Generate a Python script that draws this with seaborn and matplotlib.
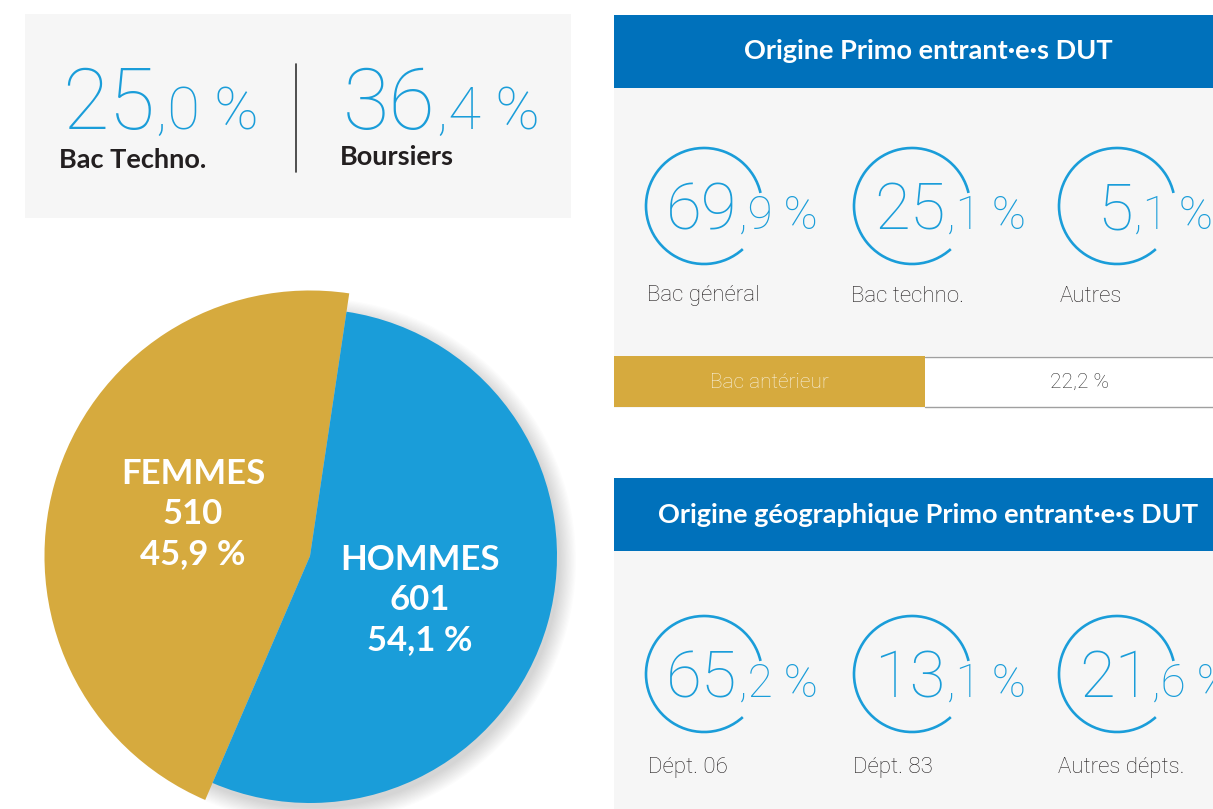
import matplotlib
matplotlib.use('Agg')
import matplotlib.pyplot as plt
from matplotlib.patches import Rectangle, Arc, Circle
import seaborn as sns

# Données
sexe_labels = ['FEMMES', 'HOMMES']
sexe_effectifs = [510, 601]
sexe_pct = [45.9, 54.1]

cles_pct = [25.0, 36.4]
cles_labels = ['Bac Techno.', 'Boursiers']

bac_labels = ['Bac général', 'Bac techno.', 'Autres']
bac_pct = [69.9, 25.1, 5.1]
bac_anterieur_label = 'Bac antérieur'
bac_anterieur_pct = 22.2

geo_labels = ['Dépt. 06', 'Dépt. 83', 'Autres dépts.']
geo_pct = [65.2, 13.1, 21.6]

titre_bac = 'Origine Primo entrant·e·s DUT'
titre_geo = 'Origine géographique Primo entrant·e·s DUT'

# Couleurs
BLEU = '#1a9dd9'
BLEU_TITRE = '#0071bb'
OR = '#d6aa3e'
GRIS = '#f6f6f6'
NOIR = '#231f20'

sns.set_theme(style='white')
plt.rcParams['font.family'] = ['Lato', 'DejaVu Sans']

W, H = 1213, 809
fig = plt.figure(figsize=(W / 100, H / 100), dpi=100)
fig.patch.set_facecolor('white')

# camembert hommes / femmes
R = 247
pcx, pcy = 310, 556
taille = 700
axp = fig.add_axes([(pcx - taille / 2) / W, 1 - (pcy + taille / 2) / H, taille / W, taille / H])
for i in range(14):
    axp.add_patch(Circle((0.012, -0.02), 1 + i * 0.005, color='black', alpha=0.011, lw=0, zorder=0))
wedges, _ = axp.pie(sexe_effectifs, colors=[OR, BLEU], startangle=81.5, counterclock=True,
                    radius=1, wedgeprops=dict(linewidth=0, zorder=2))
wedges[0].set_radius(1.075)
lim = taille / 2 / R
axp.set_xlim(-lim, lim)
axp.set_ylim(-lim, lim)
axp.set_aspect('equal')
axp.axis('off')

# axe principal en pixels
ax = fig.add_axes([0, 0, 1, 1])
ax.set_zorder(3)
ax.set_xlim(0, W)
ax.set_ylim(H, 0)
ax.axis('off')
renderer = fig.canvas.get_renderer()
CHIFFRES = ['Roboto', 'DejaVu Sans']


def fr(v):
    return f'{v:.1f}'.replace('.', ',')


def nombre(x, y, v, grand, petit, ha='left'):
    # partie entière en grand, décimale et % en plus petit
    ent, dec = f'{v:.1f}'.split('.')
    t = ax.text(x, y, ent, fontsize=grand, color=BLEU, family=CHIFFRES,
                fontweight='light', ha=ha, va='baseline')
    bb = t.get_window_extent(renderer)
    x1 = ax.transData.inverted().transform((bb.x1, bb.y0))[0]
    ax.text(x1 + 1, y, f',{dec} %', fontsize=petit, color=BLEU, family=CHIFFRES,
            fontweight='light', ha='left', va='baseline')


# encadré chiffres clés
ax.add_patch(Rectangle((25, 14), 546, 204, color=GRIS, lw=0))
for x, v, lab, yl in zip([62, 343], cles_pct, cles_labels, [168, 165]):
    nombre(x, 129, v, 61, 43)
    ax.text(x - 3, yl, lab, fontsize=19.5, fontweight='bold', color=NOIR, va='baseline')
ax.plot([296, 296], [64, 172], color='#333333', lw=1.2)

# labels du camembert
for x, y, lab, n, p in zip([193, 420], [514, 600], sexe_labels, sexe_effectifs, sexe_pct):
    ax.text(x, y, f'{lab}\n{n}\n{fr(p)} %', fontsize=25, fontweight='bold', color='white',
            ha='center', va='center', multialignment='center', linespacing=1.3)

# panneau origine bac
ax.add_patch(Rectangle((614, 15), 610, 73, color=BLEU_TITRE, lw=0))
ax.text(928, 51, titre_bac, fontsize=19.5, fontweight='bold', color='white', ha='center', va='center')
ax.add_patch(Rectangle((614, 88), 610, 320, color=GRIS, lw=0))

centres = [704, 912, 1117]


def cercles(cy, valeurs, labels, xl, yl):
    for cx, v, lab, x in zip(centres, valeurs, labels, xl):
        ax.add_patch(Arc((cx, cy), 116, 116, theta1=48, theta2=347, color=BLEU, lw=1.9))
        ent, dec = f'{v:.1f}'.split('.')
        t = ax.text(cx - 2, cy + 23, ent, fontsize=47, color=BLEU, family=CHIFFRES,
                    fontweight='light', ha='center', va='baseline')
        bb = t.get_window_extent(renderer)
        x1 = ax.transData.inverted().transform((bb.x1, bb.y0))[0]
        ax.text(x1 + 1, cy + 23, f',{dec} %', fontsize=33, color=BLEU, family=CHIFFRES,
                fontweight='light', ha='left', va='baseline')
        ax.text(x, yl, lab, fontsize=16, family=CHIFFRES, fontweight='light', color=NOIR,
                ha='left', va='center')


cercles(206, bac_pct, bac_labels, [647, 851, 1060], 296)

# bac antérieur
ax.add_patch(Rectangle((614, 356), 311, 51, color=OR, lw=0))
ax.add_patch(Rectangle((925, 356), 300, 51, color='white', lw=0))
ax.plot([925, W], [356.5, 356.5], color='#a0a0a0', lw=1)
ax.plot([925, W], [406.5, 406.5], color='#a0a0a0', lw=1)
ax.text(769, 382, bac_anterieur_label, fontsize=15, family=CHIFFRES, fontweight='light',
        color='#f8f1de', ha='center', va='center')
ax.text(1079, 382, f'{fr(bac_anterieur_pct)} %', fontsize=15, family=CHIFFRES, fontweight='light',
        color='#333333', ha='center', va='center')

# panneau origine géographique
ax.add_patch(Rectangle((614, 478), 610, 73, color=BLEU_TITRE, lw=0))
ax.text(928, 515, titre_geo, fontsize=19.5, fontweight='bold', color='white', ha='center', va='center')
ax.add_patch(Rectangle((614, 551), 610, 260, color=GRIS, lw=0))
cercles(674, geo_pct, geo_labels, [648, 853, 1058], 767)

fig.savefig('out.png', dpi=100, facecolor='white')
